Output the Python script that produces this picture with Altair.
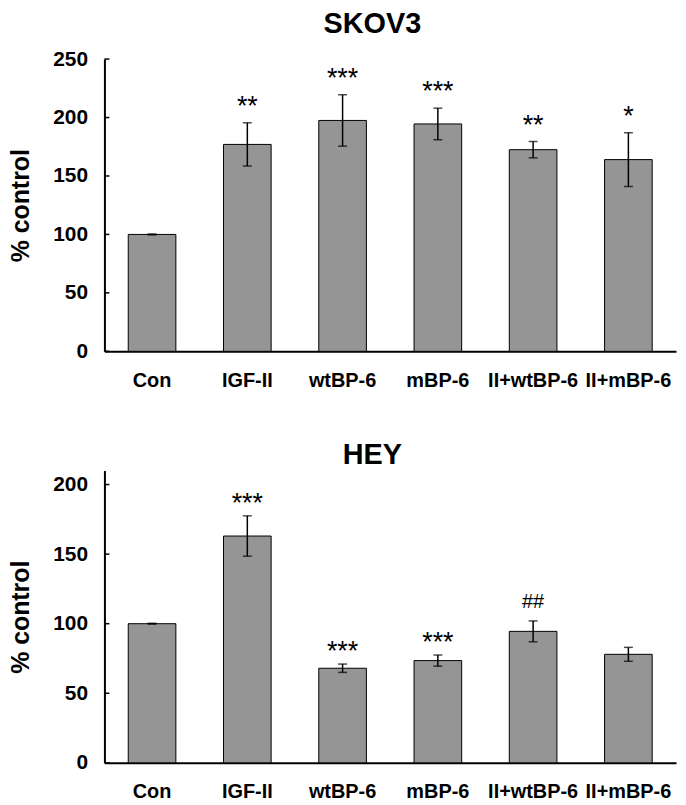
import altair as alt
import pandas as pd

categories = ["Con", "IGF-II", "wtBP-6", "mBP-6", "II+wtBP-6", "II+mBP-6"]

skov3_mean = [100, 177, 197.5, 194.5, 172.5, 164]
skov3_err = [0.4, 18.5, 22, 13.5, 7, 23]
skov3_sig = ["", "**", "***", "***", "**", "*"]
skov3_ticks = [0, 50, 100, 150, 200, 250]

hey_mean = [100, 163, 68, 73.5, 94.5, 78]
hey_err = [0.3, 14.5, 3, 4, 7.5, 5]
hey_sig = ["", "***", "***", "***", "##", ""]
hey_ticks = [0, 50, 100, 150, 200]

FONT = "Liberation Sans"


def panel(title, means, errs, sigs, ticks, ymax, title_offset, star_dy, hash_dy):
    df = pd.DataFrame({
        "cat": categories,
        "mean": means,
        "lo": [m - e for m, e in zip(means, errs)],
        "hi": [m + e for m, e in zip(means, errs)],
        "sig": sigs,
    })
    tdf = pd.DataFrame({"t": ticks})

    xaxis = alt.Axis(title=None, labelAngle=0, ticks=False, domainWidth=2,
                     domainColor="black", labelFont=FONT, labelFontSize=20,
                     labelFontWeight="bold", labelColor="black", labelPadding=19)
    xenc = alt.X("cat:N", sort=categories,
                 scale=alt.Scale(paddingInner=0.5, paddingOuter=0.25), axis=xaxis)
    yscale = alt.Scale(domain=[0, ymax], nice=False, zero=True)
    yaxis = alt.Axis(values=ticks, ticks=False, grid=False, title="% control",
                     titleFont=FONT, titleFontSize=25, titleFontWeight="bold",
                     titleColor="black", labelFont=FONT, labelFontSize=21,
                     labelFontWeight="bold", labelColor="black", labelPadding=17,
                     titlePadding=19, domainWidth=2, domainColor="black")

    def Y(field):
        return alt.Y(field, scale=yscale, axis=yaxis)

    base = alt.Chart(df)
    bars = base.mark_bar(color="#959595", stroke="black", strokeWidth=1).encode(
        x=xenc, y=Y("mean:Q"))
    rule = base.mark_rule(color="black", strokeWidth=1.5).encode(
        x=xenc, y=Y("lo:Q"), y2="hi:Q")
    cap_hi = base.mark_tick(color="black", size=9, thickness=1.5).encode(
        x=xenc, y=Y("hi:Q"))
    cap_lo = base.mark_tick(color="black", size=9, thickness=1.5).encode(
        x=xenc, y=Y("lo:Q"))
    stars = base.transform_filter("indexof(datum.sig, '*') >= 0").mark_text(
        font=FONT, fontSize=27, baseline="alphabetic", dy=star_dy, color="black"
    ).encode(x=xenc, y=Y("hi:Q"), text="sig:N")
    hashes = base.transform_filter("indexof(datum.sig, '#') >= 0").mark_text(
        font=FONT, fontSize=20, baseline="alphabetic", dy=hash_dy, color="black"
    ).encode(x=xenc, y=Y("hi:Q"), text="sig:N")
    yticks = alt.Chart(tdf).mark_rule(color="black", strokeWidth=1.5).encode(
        y=Y("t:Q"), x=alt.value(0), x2=alt.value(5))
    return alt.layer(bars, rule, cap_hi, cap_lo, stars, hashes, yticks).properties(
        width=575, height=294,
        title=alt.TitleParams(title, font=FONT, fontSize=29, fontWeight="bold",
                              color="black", anchor="middle", dx=-18,
                              offset=title_offset),
    )


top = panel("SKOV3", skov3_mean, skov3_err, skov3_sig, skov3_ticks, 250, 9, -8, -13)
bottom = panel("HEY", hey_mean, hey_err, hey_sig, hey_ticks, 210, 1, -4, -13)

chart = alt.vconcat(top, bottom, spacing=51).properties(
    padding={"left": 0, "top": 0, "right": 2, "bottom": 0}
).configure_view(stroke=None)

chart.save("out.html", embed_options={"renderer": "svg", "actions": False})
